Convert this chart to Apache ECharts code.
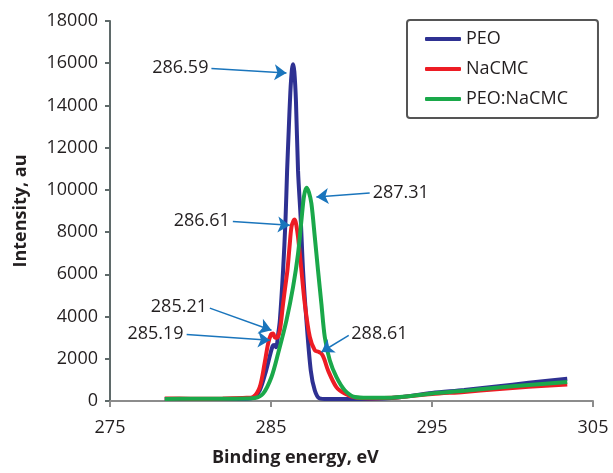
<!DOCTYPE html>
<html>
<head>
<meta charset="utf-8">
<title>XPS C1s</title>
<script src="https://cdn.jsdelivr.net/npm/echarts@6/dist/echarts.min.js"></script>
<style>
  html, body { margin: 0; padding: 0; background: #fff; }
  #main { width: 613px; height: 473px; }
</style>
</head>
<body>
<div id="main"></div>
<script>
// values: [binding energy eV, intensity au]
var peoData = [
  [278.4, 90], [280, 100], [282, 95], [283.5, 105], [283.9, 150], [284.3, 500],
  [284.7, 1450], [284.95, 2200], [285.1, 2600], [285.2, 2650], [285.32, 2550],
  [285.45, 3200], [285.55, 3820], [285.75, 6190], [285.9, 8560], [286.0, 10900],
  [286.1, 12800], [286.2, 14600], [286.3, 15700], [286.37, 15950], [286.45, 15600],
  [286.55, 14200], [286.68, 10900], [286.85, 8560], [286.99, 6190], [287.2, 3820],
  [287.47, 1450], [287.72, 500], [288.0, 130], [288.5, 90], [290, 90], [292, 120],
  [293, 180], [295, 380], [297, 520], [299, 690], [301, 860], [303.4, 1050]
];
var nacmcData = [
  [278.4, 120], [280, 110], [282, 120], [283.5, 150], [283.9, 200], [284.3, 660],
  [284.6, 1770], [284.82, 2720], [285.0, 3150], [285.13, 3200], [285.25, 3000],
  [285.36, 3000], [285.55, 3350], [285.75, 4610], [285.9, 5500], [286.02, 6190],
  [286.15, 7300], [286.27, 8240], [286.4, 8550], [286.48, 8600], [286.58, 8300],
  [286.68, 7770], [286.89, 6190], [287.1, 4610], [287.41, 3030], [287.72, 2400],
  [287.95, 2330], [288.13, 2250], [288.3, 2000], [288.54, 1455], [289.06, 660],
  [289.58, 350], [290.2, 170], [291, 130], [292, 140], [293, 180], [295, 330],
  [297, 430], [299, 560], [301, 670], [303.4, 780]
];
var blendData = [
  [278.4, 100], [280, 110], [282, 110], [283.5, 120], [284.0, 140], [284.51, 350],
  [285.03, 1140], [285.44, 2250], [285.96, 3820], [286.37, 5400], [286.68, 6980],
  [286.89, 8560], [287.05, 9700], [287.2, 10100], [287.35, 9900], [287.51, 9350],
  [287.72, 7770], [287.92, 6190], [288.13, 4610], [288.34, 3030], [288.65, 1930],
  [289.06, 1140], [289.58, 510], [290.2, 190], [291, 150], [292, 150], [293, 190],
  [295, 360], [297, 480], [299, 630], [301, 760], [303.4, 900]
];

var seriesNames = ['PEO', 'NaCMC', 'PEO:NaCMC'];
var xTicks = [275, 285, 295, 305];

// peak annotations: label, arrow tail [x, y], arrow head [x, y]
var peakLabels = ['286.59', '286.61', '287.31', '285.21', '285.19', '288.61'];
var arrowFrom = [[281.3, 15750], [282.63, 8500], [291.13, 9850], [281.2, 4400], [279.76, 3150], [289.83, 3112]];
var arrowTo = [[285.96, 15537], [286.17, 8323], [287.82, 9664], [285.03, 3349], [284.93, 2877], [288.13, 2321]];

var font = 'Open Sans';
var textColor = '#231f20';

var arrows = peakLabels.map(function (t, i) {
  return [{ name: t, coord: arrowFrom[i] }, { coord: arrowTo[i] }];
});

var chart = echarts.init(document.getElementById('main'));
chart.setOption({
  animation: false,
  grid: { left: 110, right: 20, top: 21, bottom: 72 },
  legend: {
    data: seriesNames,
    orient: 'vertical',
    left: 407, top: 20,
    padding: [10, 30, 10, 18],
    itemGap: 12,
    itemWidth: 36, itemHeight: 4,
    icon: 'roundRect',
    borderColor: '#555',
    borderWidth: 2,
    borderRadius: 3,
    textStyle: { fontFamily: font, fontSize: 18, color: textColor, lineHeight: 18 }
  },
  xAxis: {
    type: 'value', min: 275, max: 305, interval: 10,
    axisLine: { lineStyle: { color: '#8c8c8c', width: 2 } },
    axisTick: { show: true, length: 6, lineStyle: { color: '#8c8c8c', width: 2 } },
    axisLabel: {
      margin: 18, fontFamily: font, fontSize: 18, color: textColor,
      formatter: function (v) { return xTicks.indexOf(v) >= 0 ? String(v) : ''; }
    },
    splitLine: { show: false }
  },
  yAxis: {
    type: 'value', min: 0, max: 18000, interval: 2000,
    name: 'Intensity, au',
    nameLocation: 'middle',
    nameGap: 80,
    nameTextStyle: { fontFamily: font, fontSize: 18, fontWeight: 'bold', color: textColor },
    axisLine: { show: true, lineStyle: { color: '#5f6a6a', width: 2 } },
    axisTick: { show: true, length: 5, lineStyle: { color: '#5f6a6a', width: 2 } },
    axisLabel: {
      margin: 12, fontFamily: font, fontSize: 18, color: textColor,
      formatter: function (v) { return String(v); }
    },
    splitLine: { show: false }
  },
  graphic: [{
    type: 'text', left: 212, top: 449,
    style: { text: 'Binding energy, eV', font: 'bold 18px "Open Sans"', fill: textColor }
  }],
  series: [
    {
      name: 'PEO', type: 'line', data: peoData, smooth: 0.3, showSymbol: false,
      lineStyle: { width: 4, color: '#2e3192' }, itemStyle: { color: '#2e3192' },
      markLine: {
        silent: true,
        symbol: ['none', 'arrow'],
        symbolSize: 12,
        lineStyle: { color: '#1a75bc', width: 1.5, type: 'solid' },
        label: {
          show: true, position: 'start', distance: 3, formatter: '{b}',
          fontFamily: font, fontSize: 18, color: textColor
        },
        data: arrows
      }
    },
    {
      name: 'NaCMC', type: 'line', data: nacmcData, smooth: 0.3, showSymbol: false,
      lineStyle: { width: 4, color: '#ed1c24' }, itemStyle: { color: '#ed1c24' }
    },
    {
      name: 'PEO:NaCMC', type: 'line', data: blendData, smooth: 0.3, showSymbol: false,
      lineStyle: { width: 4, color: '#1aa84a' }, itemStyle: { color: '#1aa84a' }
    }
  ]
});
</script>
</body>
</html>
